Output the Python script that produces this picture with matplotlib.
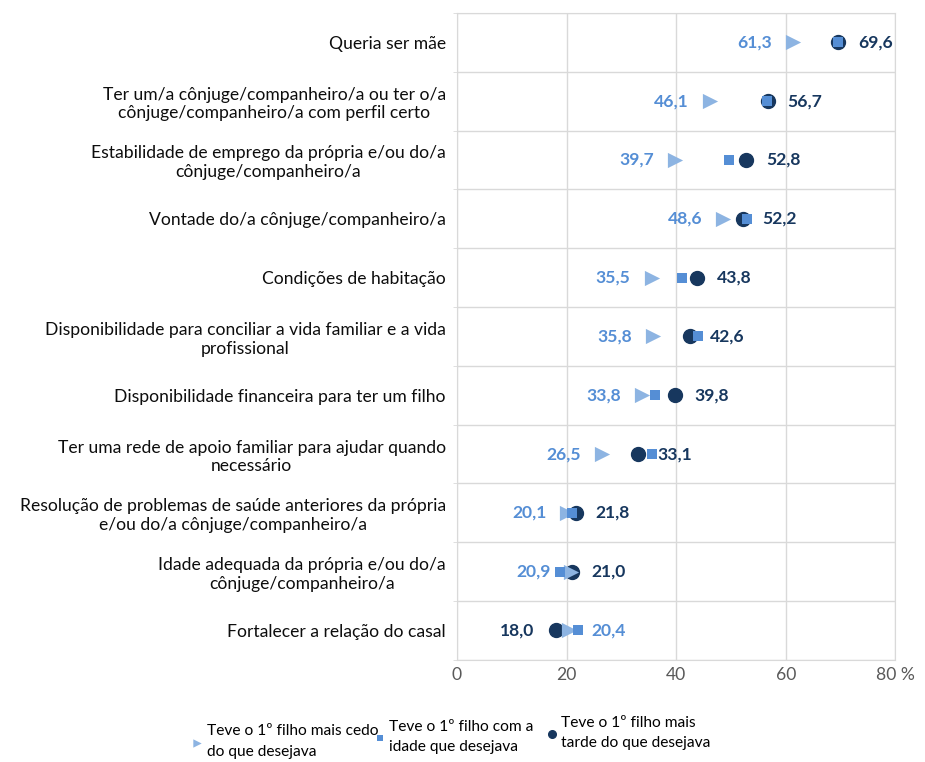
import numpy as np
from matplotlib import pyplot as plt
from matplotlib.ticker import FixedLocator

plt.rcParams['font.family'] = ['Lato', 'DejaVu Sans']

categories = [
    'Queria ser mãe',
    'Ter um/a cônjuge/companheiro/a ou ter o/a\ncônjuge/companheiro/a com perfil certo',
    'Estabilidade de emprego da própria e/ou do/a\ncônjuge/companheiro/a',
    'Vontade do/a cônjuge/companheiro/a',
    'Condições de habitação',
    'Disponibilidade para conciliar a vida familiar e a vida\nprofissional',
    'Disponibilidade financeira para ter um filho',
    'Ter uma rede de apoio familiar para ajudar quando\nnecessário',
    'Resolução de problemas de saúde anteriores da própria\ne/ou do/a cônjuge/companheiro/a',
    'Idade adequada da própria e/ou do/a\ncônjuge/companheiro/a',
    'Fortalecer a relação do casal',
]
mais_cedo = [61.3, 46.1, 39.7, 48.6, 35.5, 35.8, 33.8, 26.5, 20.1, 20.9, 20.4]
com_idade = [69.5, 56.5, 49.6, 52.9, 41.0, 44.0, 36.2, 35.6, 21.0, 18.8, 22.0]
mais_tarde = [69.6, 56.7, 52.8, 52.2, 43.8, 42.6, 39.8, 33.1, 21.8, 21.0, 18.0]
x_ticks = [0, 20, 40, 60, 80]
x_ticklabels = ['0', '20', '40', '60', '80 %']
legend_labels = ['Teve o 1º filho mais cedo\ndo que desejava',
                 'Teve o 1º filho com a\nidade que desejava',
                 'Teve o 1º filho mais\ntarde do que desejava']

c_cedo = '#8DB4E2'
c_idade = '#558ED5'
c_tarde = '#17375E'
c_cedo_txt = '#558ED5'
grid_c = '#D9D9D9'
fs = 12.6

fig = plt.figure(figsize=(9.25, 7.62), dpi=100)
ax = fig.add_axes([0.494, 0.134, 0.474, 0.849])

y = np.arange(len(categories))
h_tarde = ax.scatter(mais_tarde, y, marker='o', s=100, color=c_tarde, zorder=3)
h_cedo = ax.scatter(mais_cedo, y, marker='>', s=120, color=c_cedo, zorder=4, linewidths=0)
h_idade = ax.scatter(com_idade, y, marker='s', s=45, color=c_idade, zorder=5, linewidths=0)

last = len(categories) - 1
for i in range(len(categories)):
    lab_c = f'{mais_cedo[i]:.1f}'.replace('.', ',')
    lab_t = f'{mais_tarde[i]:.1f}'.replace('.', ',')
    if i == last:
        ax.annotate(lab_c, (mais_cedo[i], y[i]), xytext=(16, 0), textcoords='offset points',
                    ha='left', va='center', color=c_cedo_txt, fontsize=fs, fontweight='bold')
        ax.annotate(lab_t, (mais_tarde[i], y[i]), xytext=(-15, 0), textcoords='offset points',
                    ha='right', va='center', color=c_tarde, fontsize=fs, fontweight='bold')
    else:
        ax.annotate(lab_c, (mais_cedo[i], y[i]), xytext=(-15, 0), textcoords='offset points',
                    ha='right', va='center', color=c_cedo_txt, fontsize=fs, fontweight='bold')
        ax.annotate(lab_t, (mais_tarde[i], y[i]), xytext=(14, 0), textcoords='offset points',
                    ha='left', va='center', color=c_tarde, fontsize=fs, fontweight='bold')

ax.set_xlim(0, 80)
ax.set_ylim(len(categories) - 0.5, -0.5)
ax.set_xticks(x_ticks)
ax.set_xticklabels(x_ticklabels, fontsize=fs, color='#595959')
ax.set_yticks(y)
ax.set_yticklabels(categories, fontsize=fs, color='#0D0D0D')
for t in ax.get_yticklabels():
    t.set_multialignment('center')
ax.yaxis.set_minor_locator(FixedLocator(np.arange(-0.5, len(categories), 1)))
ax.tick_params(axis='y', which='major', length=0, pad=8)
ax.tick_params(axis='y', which='minor', length=3, color=grid_c)
ax.tick_params(axis='x', length=0, pad=5)
ax.grid(axis='x', color=grid_c, linewidth=1)
ax.grid(axis='y', which='minor', color=grid_c, linewidth=1)
for s in ax.spines.values():
    s.set_color(grid_c)
ax.set_axisbelow(True)

# legend: one entry per block, placed like the original
handles = [h_cedo, h_idade, h_tarde]
anchors = [(0.205, 0.027), (0.402, 0.033), (0.588, 0.038)]
for h, lab, anc in zip(handles, legend_labels, anchors):
    leg = fig.legend([h], [lab], loc='center left', bbox_to_anchor=anc, frameon=False,
                     fontsize=11.2, markerscale=0.55, handletextpad=0.1, handlelength=1.0,
                     borderpad=0, borderaxespad=0)
    for t in leg.get_texts():
        t.set_linespacing(1.6)

plt.savefig('out.png', dpi=100)
